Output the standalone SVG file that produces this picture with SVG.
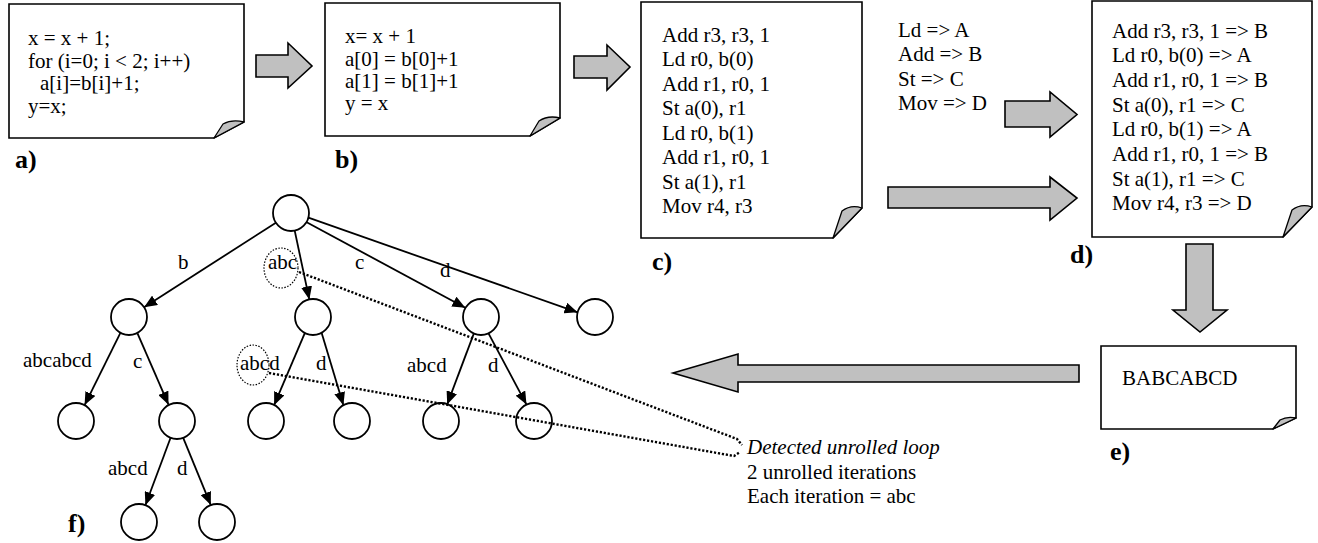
<svg xmlns="http://www.w3.org/2000/svg" width="1318" height="543" viewBox="0 0 1318 543">
<style>
.page{fill:#fff;stroke:#000;stroke-width:1.6;stroke-linejoin:miter}
.fold{fill:#c0c0c0;stroke:#000;stroke-width:1.3;stroke-linejoin:round}
.blk{fill:#c0c0c0;stroke:#000;stroke-width:1.6;stroke-linejoin:miter}
.t{font-family:"Liberation Serif","Times New Roman",serif;font-size:21px;fill:#000}
.lbl{font-family:"Liberation Serif","Times New Roman",serif;font-size:26px;font-weight:bold;fill:#000}
.it{font-style:italic}
.node{fill:#fff;stroke:#000;stroke-width:1.8}
.edge{fill:none;stroke:#000;stroke-width:1.8;marker-end:url(#ah)}
.dot{fill:none;stroke:#000;stroke-width:2.4;stroke-dasharray:2.2 1.8}
.dotc{fill:none;stroke:#000;stroke-width:1.2;stroke-dasharray:1.5 1.5}
</style>
<defs>
<marker id="ah" markerUnits="userSpaceOnUse" markerWidth="14" markerHeight="11" refX="13" refY="5.5" orient="auto">
<path d="M0,0 L13,5.5 L0,11 z" fill="#000"/>
</marker>
</defs>

<g id="doc-a">
<path class="page" d="M9,4 H244 V122 L214,138 H9 Z"/>
<path class="fold" d="M244,122 L214,138 L223,124 Q232,119 244,122 Z"/>
<text class="t" x="28" y="45">x = x + 1;</text>
<text class="t" x="28" y="68">for (i=0; i &lt; 2; i++)</text>
<text class="t" x="40" y="90">a[i]=b[i]+1;</text>
<text class="t" x="28" y="113">y=x;</text>
<text class="lbl" x="15" y="168">a)</text>
</g>

<g id="doc-b">
<path class="page" d="M325,3 H560 V118 L530,136 H325 Z"/>
<path class="fold" d="M560,118 L530,136 L539,121 Q548,115 560,118 Z"/>
<text class="t" x="345" y="43">x= x + 1</text>
<text class="t" x="345" y="65.5">a[0] = b[0]+1</text>
<text class="t" x="345" y="88">a[1] = b[1]+1</text>
<text class="t" x="345" y="110">y = x</text>
<text class="lbl" x="335" y="168">b)</text>
</g>

<g id="doc-c">
<path class="page" d="M641,2 H862 V208 L833,238 H641 Z"/>
<path class="fold" d="M862,208 L833,238 L842,211 Q851,204 862,208 Z"/>
<text class="t" x="662" y="41.5">Add r3, r3, 1</text>
<text class="t" x="662" y="66">Ld r0, b(0)</text>
<text class="t" x="662" y="90.5">Add r1, r0, 1</text>
<text class="t" x="662" y="115">St a(0), r1</text>
<text class="t" x="662" y="139.5">Ld r0, b(1)</text>
<text class="t" x="662" y="164">Add r1, r0, 1</text>
<text class="t" x="662" y="188.5">St a(1), r1</text>
<text class="t" x="662" y="213">Mov r4, r3</text>
<text class="lbl" x="652" y="270">c)</text>
</g>

<g id="mapping">
<text class="t" x="898" y="36.5">Ld =&gt; A</text>
<text class="t" x="898" y="61">Add =&gt; B</text>
<text class="t" x="898" y="85.5">St =&gt; C</text>
<text class="t" x="898" y="110">Mov =&gt; D</text>
</g>

<g id="doc-d">
<path class="page" d="M1092,1 H1312 V207 L1283,237 H1092 Z"/>
<path class="fold" d="M1312,207 L1283,237 L1292,210 Q1301,203 1312,207 Z"/>
<text class="t" x="1112" y="37.5">Add r3, r3, 1 =&gt; B</text>
<text class="t" x="1112" y="62.2">Ld r0, b(0) =&gt; A</text>
<text class="t" x="1112" y="86.9">Add r1, r0, 1 =&gt; B</text>
<text class="t" x="1112" y="111.6">St a(0), r1 =&gt; C</text>
<text class="t" x="1112" y="136.3">Ld r0, b(1) =&gt; A</text>
<text class="t" x="1112" y="161">Add r1, r0, 1 =&gt; B</text>
<text class="t" x="1112" y="185.7">St a(1), r1 =&gt; C</text>
<text class="t" x="1112" y="210.4">Mov r4, r3 =&gt; D</text>
<text class="lbl" x="1070" y="263">d)</text>
</g>

<g id="doc-e">
<path class="page" d="M1101,346 H1296 V418 L1273,429 H1101 Z"/>
<path class="fold" d="M1296,418 L1273,429 L1280,420 Q1287,416 1296,418 Z"/>
<text class="t" x="1122" y="385">BABCABCD</text>
<text class="lbl" x="1110" y="460">e)</text>
</g>

<g id="annotation">
<text class="t it" x="747" y="454">Detected unrolled loop</text>
<text class="t" x="747" y="479">2 unrolled iterations</text>
<text class="t" x="747" y="503">Each iteration = abc</text>
</g>

<g id="connectors">
<polygon class="blk" points="256,55 288,55 288,43 312,66 288,88 288,77 256,77"/>
<polygon class="blk" points="574,56 607,56 607,45 630,67 607,90 607,78 574,78"/>
<polygon class="blk" points="1005,101 1050,101 1050,92 1077,114.5 1050,137 1050,127 1005,127"/>
<polygon class="blk" points="888,187 1050,187 1050,177 1077,198 1050,220 1050,208 888,208"/>
<polygon class="blk" points="1186,244 1213,244 1213,310 1227,310 1200,332 1173,310 1186,310"/>
<polygon class="blk" points="1079,365 1079,382 738,382 738,392 673,373 738,354 738,365"/>
<path class="edge" d="M275.9,222.7 L144.1,307.3"/>
<path class="edge" d="M294.7,230.6 L309.3,299.4"/>
<path class="edge" d="M306.7,222.3 L465.3,307.7"/>
<path class="edge" d="M308.4,217.7 L577.6,312.3"/>
<path class="edge" d="M120.4,332.9 L84.6,405.1"/>
<path class="edge" d="M137.5,333.3 L168.5,404.7"/>
<path class="edge" d="M304.9,332.8 L274.1,405.2"/>
<path class="edge" d="M321.6,332.8 L343.4,405.2"/>
<path class="edge" d="M473.8,333.6 L447.2,404.4"/>
<path class="edge" d="M488.5,333.4 L526.5,404.6"/>
<path class="edge" d="M170.6,437.8 L145.4,505.2"/>
<path class="edge" d="M183.2,437.9 L210.8,505.1"/>
</g>

<g id="tree-nodes">
<circle id="n-root" class="node" cx="291" cy="213" r="18"/>
<circle id="n-b" class="node" cx="129" cy="317" r="18"/>
<circle id="n-abc" class="node" cx="313" cy="317" r="18"/>
<circle id="n-c" class="node" cx="481" cy="317" r="18"/>
<circle id="n-d" class="node" cx="595" cy="317" r="18"/>
<circle id="n-b-abcabcd" class="node" cx="76" cy="421" r="18"/>
<circle id="n-b-c" class="node" cx="177" cy="421" r="18"/>
<circle id="n-abc-abcd" class="node" cx="266" cy="421" r="18"/>
<circle id="n-abc-d" class="node" cx="352" cy="421" r="18"/>
<circle id="n-c-abcd" class="node" cx="441" cy="421" r="18"/>
<circle id="n-c-d" class="node" cx="534" cy="421" r="18"/>
<circle id="n-bc-abcd" class="node" cx="139" cy="522" r="18"/>
<circle id="n-bc-d" class="node" cx="217" cy="522" r="18"/>
</g>

<g id="tree-labels">
<text class="t" x="178" y="269">b</text>
<text class="t" x="268" y="269">abc</text>
<text class="t" x="355" y="269">c</text>
<text class="t" x="440" y="277">d</text>
<text class="t" x="23" y="367">abcabcd</text>
<text class="t" x="133" y="368">c</text>
<text class="t" x="240" y="370">abcd</text>
<text class="t" x="316" y="370">d</text>
<text class="t" x="407" y="372">abcd</text>
<text class="t" x="488" y="372">d</text>
<text class="t" x="108" y="475">abcd</text>
<text class="t" x="177" y="475">d</text>
<text class="lbl" x="68" y="532">f)</text>
</g>

<g id="loop-marks">
<ellipse class="dotc" cx="281" cy="268" rx="17" ry="20"/>
<ellipse class="dotc" cx="253" cy="365" rx="16" ry="20"/>
<polyline class="dot" points="299,272 737,439 742,445"/>
<polyline class="dot" points="269,373 734,456 740,452"/>
</g>
</svg>
